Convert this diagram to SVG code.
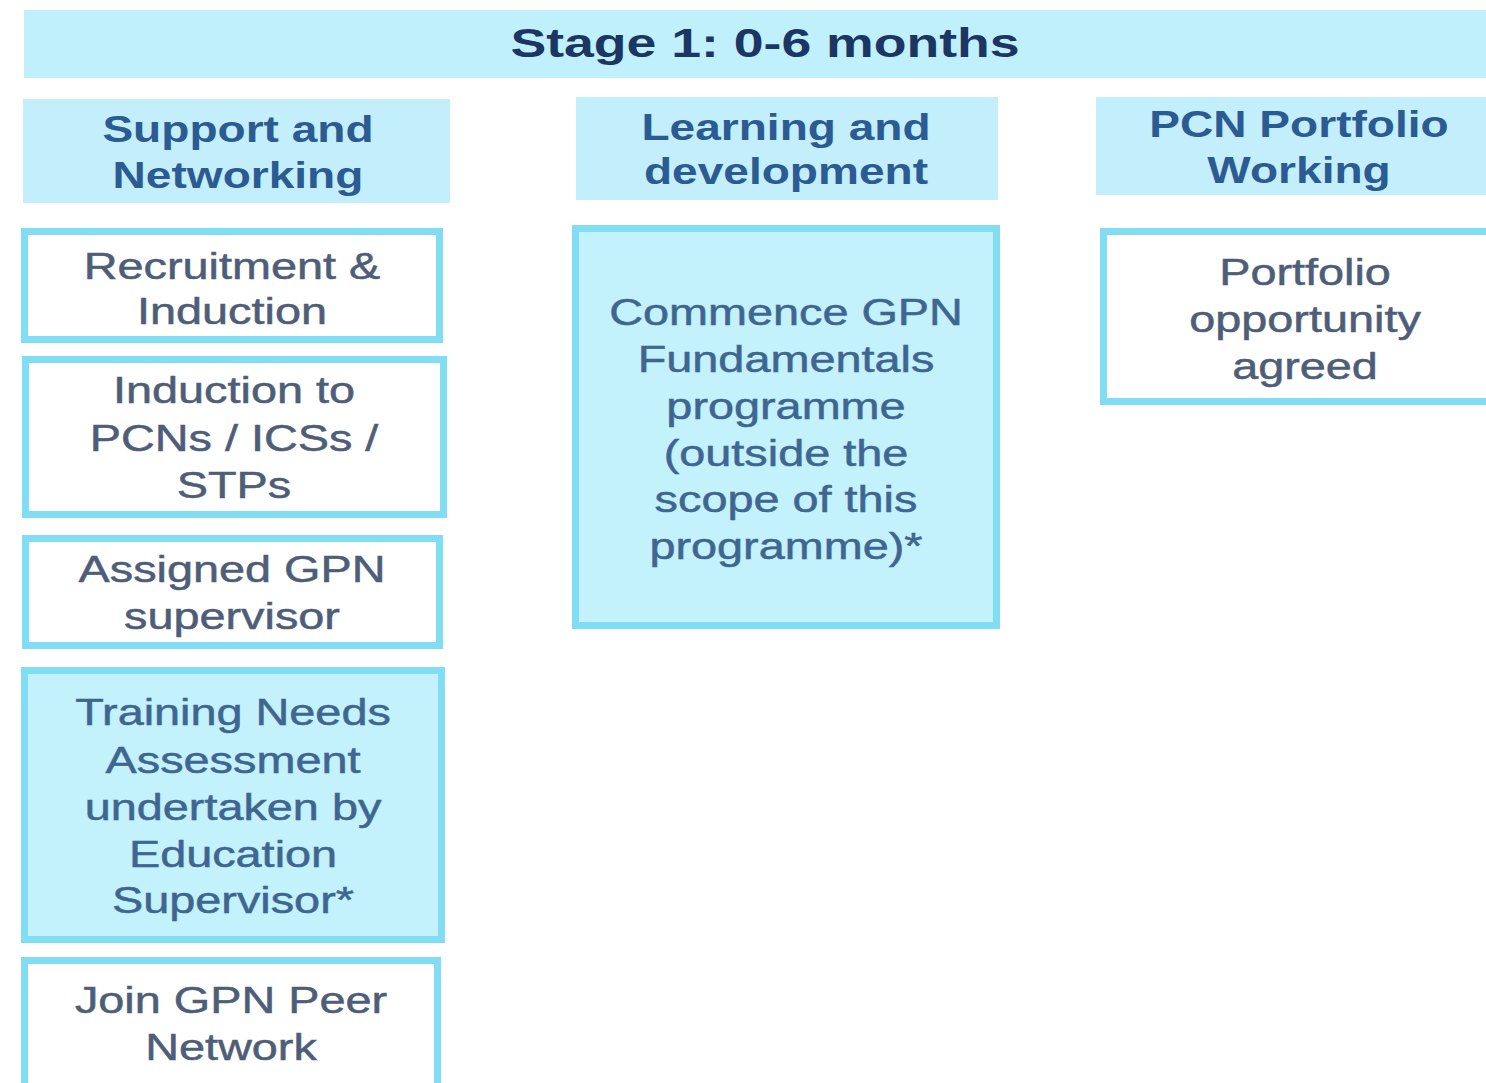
<svg xmlns="http://www.w3.org/2000/svg" width="1486" height="1083" viewBox="0 0 1486 1083">
  <style>
    .band { fill: #c0f0fc; }
    .head { fill: #c2effb; }
    .box { fill: #ffffff; stroke: #80ddf4; stroke-width: 7; }
    .boxfill { fill: #c3f1fc; stroke: #80ddf4; stroke-width: 7; }
    text { font-family: "Liberation Sans", Arial, sans-serif; text-anchor: middle; }
    .stage { font-size: 40px; font-weight: bold; fill: #1b3662; }
    .htxt { font-size: 36px; font-weight: bold; fill: #2c5a92; }
    .btxt { font-size: 36px; fill: #4e5d78; stroke: #4e5d78; stroke-width: 0.5; }
    .ftxt { font-size: 36px; fill: #3e6690; stroke: #3e6690; stroke-width: 0.5; }
  </style>

  <rect width="1486" height="1083" fill="#ffffff"/>

  <!-- stage banner -->
  <g id="stage">
    <rect class="band" x="24" y="10" width="1470" height="68"/>
    <g transform="translate(765 0) scale(1.34 1)">
      <text class="stage" x="0" y="57">Stage 1: 0-6 months</text>
    </g>
  </g>

  <!-- column headers -->
  <g id="head-support">
    <rect class="head" x="23" y="99" width="427" height="104"/>
    <g transform="translate(238 0) scale(1.28 1)">
      <text class="htxt" x="0" y="142">Support and</text>
      <text class="htxt" x="0" y="188">Networking</text>
    </g>
  </g>
  <g id="head-learning">
    <rect class="head" x="576" y="97" width="422" height="103"/>
    <g transform="translate(786 0) scale(1.28 1)">
      <text class="htxt" x="0" y="140">Learning and</text>
      <text class="htxt" x="0" y="184">development</text>
    </g>
  </g>
  <g id="head-pcn">
    <rect class="head" x="1096" y="97" width="400" height="98"/>
    <g transform="translate(1299 0) scale(1.28 1)">
      <text class="htxt" x="0" y="137">PCN Portfolio</text>
      <text class="htxt" x="0" y="183">Working</text>
    </g>
  </g>

  <!-- support and networking column -->
  <g id="recruitment">
    <rect class="box" x="24.5" y="231.5" width="415" height="108"/>
    <g transform="translate(232 0) scale(1.3 1)">
      <text class="btxt" x="0" y="279">Recruitment &amp;</text>
      <text class="btxt" x="0" y="324">Induction</text>
    </g>
  </g>
  <g id="induction-pcns">
    <rect class="box" x="25.5" y="359.5" width="418" height="155"/>
    <g transform="translate(234 0) scale(1.3 1)">
      <text class="btxt" x="0" y="403">Induction to</text>
      <text class="btxt" x="0" y="451">PCNs / ICSs /</text>
      <text class="btxt" x="0" y="498">STPs</text>
    </g>
  </g>
  <g id="supervisor">
    <rect class="box" x="25.5" y="538.5" width="414" height="107"/>
    <g transform="translate(232 0) scale(1.3 1)">
      <text class="btxt" x="0" y="582">Assigned GPN</text>
      <text class="btxt" x="0" y="629">supervisor</text>
    </g>
  </g>
  <g id="tna">
    <rect class="boxfill" x="24.5" y="670.5" width="417" height="269"/>
    <g transform="translate(233 0) scale(1.3 1)">
      <text class="ftxt" x="0" y="725">Training Needs</text>
      <text class="ftxt" x="0" y="773">Assessment</text>
      <text class="ftxt" x="0" y="820">undertaken by</text>
      <text class="ftxt" x="0" y="867">Education</text>
      <text class="ftxt" x="0" y="913">Supervisor*</text>
    </g>
  </g>
  <g id="peer-network">
    <rect class="box" x="24.5" y="960.5" width="413" height="140"/>
    <g transform="translate(231 0) scale(1.3 1)">
      <text class="btxt" x="0" y="1013">Join GPN Peer</text>
      <text class="btxt" x="0" y="1060">Network</text>
    </g>
  </g>

  <!-- learning and development column -->
  <g id="fundamentals">
    <rect class="boxfill" x="575.5" y="228.5" width="421" height="397"/>
    <g transform="translate(786 0) scale(1.3 1)">
      <text class="ftxt" x="0" y="325">Commence GPN</text>
      <text class="ftxt" x="0" y="372">Fundamentals</text>
      <text class="ftxt" x="0" y="419">programme</text>
      <text class="ftxt" x="0" y="466">(outside the</text>
      <text class="ftxt" x="0" y="512">scope of this</text>
      <text class="ftxt" x="0" y="559">programme)*</text>
    </g>
  </g>

  <!-- pcn portfolio column -->
  <g id="portfolio">
    <rect class="box" x="1103.5" y="231.5" width="400" height="170"/>
    <g transform="translate(1305 0) scale(1.3 1)">
      <text class="btxt" x="0" y="285">Portfolio</text>
      <text class="btxt" x="0" y="332">opportunity</text>
      <text class="btxt" x="0" y="379">agreed</text>
    </g>
  </g>

  <!-- no connectors in this layout -->
  <g id="connectors"/>
</svg>
